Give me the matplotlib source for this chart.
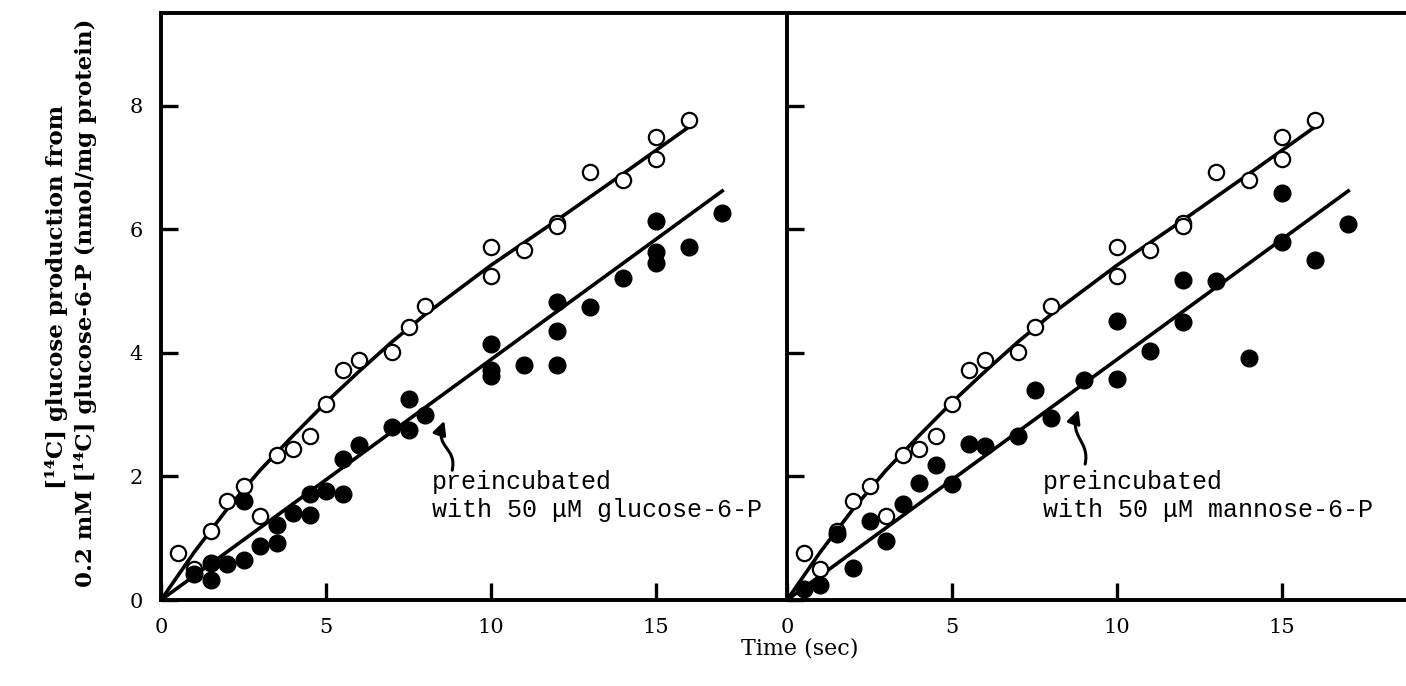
import matplotlib.pyplot as plt
from matplotlib.path import Path
from matplotlib.patches import FancyArrowPatch

# control (open circles) - same in both panels
ctrl_t = [0.5, 1, 1.5, 2, 2.5, 3, 3.5, 4, 4.5, 5, 5.5, 6, 7, 7.5, 8,
          10, 10, 11, 12, 12, 13, 14, 15, 15, 16]
ctrl_y = [0.76, 0.50, 1.12, 1.60, 1.85, 1.36, 2.35, 2.45, 2.65, 3.17, 3.72, 3.88, 4.02, 4.42, 4.76,
          5.71, 5.25, 5.67, 6.10, 6.05, 6.93, 6.80, 7.50, 7.14, 7.77]
ctrl_fit_t = [0, 1, 2, 3, 4, 5, 6, 7, 8, 10, 12, 14, 16]
ctrl_fit_y = [0, 0.77, 1.47, 2.1, 2.66, 3.2, 3.7, 4.18, 4.62, 5.42, 6.15, 6.9, 7.66]

# preincubated with glucose-6-P (filled, left)
g6p_t = [1, 1.5, 1.5, 2, 2.5, 2.5, 3, 3.5, 3.5, 4, 4.5, 4.5, 5, 5.5, 5.5, 6, 7, 7.5, 7.5, 8,
         10, 10, 10, 11, 12, 12, 12, 13, 14, 15, 15, 15, 16, 17]
g6p_y = [0.42, 0.60, 0.33, 0.58, 0.65, 1.60, 0.88, 0.92, 1.22, 1.40, 1.38, 1.71, 1.77, 1.72, 2.28, 2.51, 2.80, 3.25, 2.75, 3.00,
         4.15, 3.72, 3.62, 3.81, 3.81, 4.35, 4.83, 4.74, 5.21, 6.13, 5.64, 5.45, 5.72, 6.26]
g6p_fit_t = [0, 17]
g6p_fit_y = [0, 6.62]

# preincubated with mannose-6-P (filled, right)
m6p_t = [0.5, 1, 1.5, 2, 2.5, 3, 3.5, 4, 4.5, 5, 5.5, 6, 7, 7.5, 8, 9,
         10, 10, 11, 12, 12, 13, 14, 15, 15, 16, 17]
m6p_y = [0.18, 0.25, 1.07, 0.52, 1.28, 0.95, 1.55, 1.90, 2.19, 1.88, 2.53, 2.50, 2.66, 3.40, 2.94, 3.56,
         4.51, 3.58, 4.03, 4.50, 5.18, 5.17, 3.92, 5.80, 6.59, 5.50, 6.09]
m6p_fit_t = [0, 17]
m6p_fit_y = [0, 6.62]

notes = ['preincubated\nwith 50 \u03bcM glucose-6-P',
         'preincubated\nwith 50 \u03bcM mannose-6-P']
note_xy = [(8.2, 1.35), (7.76, 1.35)]
arrow_tail = [(8.82, 2.10), (9.03, 2.20)]
arrow_tip = [(8.58, 2.90), (8.83, 3.08)]

W, H = 1406, 686
fig = plt.figure(figsize=(W / 100, H / 100), dpi=100)
ax1 = fig.add_axes([161 / W, 86 / H, 624 / W, 587 / H])
ax2 = fig.add_axes([787 / W, 86 / H, 624 / W, 587 / H])

panels = [(ax1, g6p_t, g6p_y, g6p_fit_t, g6p_fit_y),
          (ax2, m6p_t, m6p_y, m6p_fit_t, m6p_fit_y)]
for i, (ax, t, y, ft, fy) in enumerate(panels):
    ax.plot(ctrl_fit_t, ctrl_fit_y, color='black', lw=2.6, zorder=2)
    ax.plot(ft, fy, color='black', lw=2.6, zorder=2)
    ax.plot(ctrl_t, ctrl_y, 'o', ms=11, mfc='white', mec='black', mew=1.6, zorder=3)
    ax.plot(t, y, 'o', ms=12, mfc='black', mec='black', zorder=4)

    ax.set_xlim(0, 18.9)
    ax.set_ylim(0, 9.5)
    ax.set_xticks([0, 5, 10, 15])
    ax.set_yticks([0, 2, 4, 6, 8])
    ax.tick_params(direction='in', length=12, width=2.4, pad=13)
    for lab in ax.get_xticklabels() + ax.get_yticklabels():
        lab.set_fontfamily('DejaVu Serif')
        lab.set_fontsize(15)
    for s in ax.spines.values():
        s.set_linewidth(2.8)
    ax.spines['right'].set_visible(False)

    ax.text(note_xy[i][0], note_xy[i][1], notes[i], family='Liberation Mono',
            fontsize=18, linespacing=1.2, va='baseline', ha='left')

    # wavy arrow pointing at the treated line
    x0, y0 = arrow_tail[i]
    x3, y3 = arrow_tip[i]
    verts = [(x0, y0), (x0 + 0.15, y0 + 0.38), (x3 - 0.3, y3 - 0.45), (x3, y3)]
    codes = [Path.MOVETO, Path.CURVE4, Path.CURVE4, Path.CURVE4]
    arr = FancyArrowPatch(path=Path(verts, codes), arrowstyle='-|>',
                          mutation_scale=20, lw=2.2, color='black')
    ax.add_patch(arr)

ax2.tick_params(axis='y', labelleft=False)

fig.text(800 / W, 1 - 648 / H, 'Time (sec)', ha='center', va='center',
         family='DejaVu Serif', fontsize=16)
fig.text(57 / W, 1 - 297 / H, '[\u00b9\u2074C] glucose production from', rotation=90,
         ha='center', va='center', family='DejaVu Serif', fontweight='bold', fontsize=16.5)
fig.text(86 / W, 1 - 303 / H, '0.2 mM [\u00b9\u2074C] glucose-6-P (nmol/mg protein)', rotation=90,
         ha='center', va='center', family='DejaVu Serif', fontweight='bold', fontsize=16.5)

fig.savefig('out.png', dpi=100)
